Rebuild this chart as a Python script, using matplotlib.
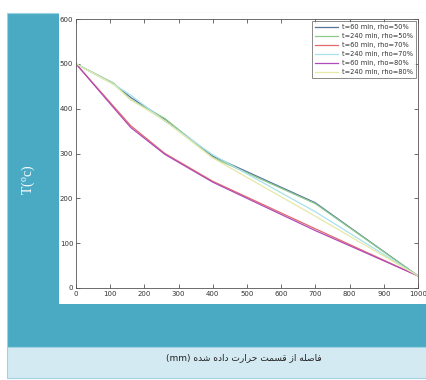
import matplotlib
matplotlib.use("Agg")
import matplotlib.pyplot as plt
from matplotlib.patches import Rectangle

# distance from heated end (mm)
x_mm = [0, 110, 160, 260, 400, 700, 1000]

# temperature profiles (deg C)
t60_rho50 = [500, 455, 425, 376, 294, 190, 27]
t240_rho50 = [500, 457, 420, 378, 291, 188, 27]
t60_rho70 = [500, 405, 362, 300, 238, 132, 27]
t240_rho70 = [500, 455, 430, 372, 297, 170, 27]
t60_rho80 = [500, 402, 358, 298, 236, 128, 27]
t240_rho80 = [500, 454, 420, 373, 290, 160, 27]

labels = ["t=60 min, rho=50%", "t=240 min, rho=50%", "t=60 min, rho=70%",
          "t=240 min, rho=70%", "t=60 min, rho=80%", "t=240 min, rho=80%"]
colors = ["#56739c", "#8acb8a", "#e26a6a", "#a8e2ea", "#b04ab8", "#e6e8a8"]
series = [t60_rho50, t240_rho50, t60_rho70, t240_rho70, t60_rho80, t240_rho80]

x_ticks = [0, 100, 200, 300, 400, 500, 600, 700, 800, 900, 1000]
y_ticks = [0, 100, 200, 300, 400, 500, 600]

W, H = 427, 380
fig = plt.figure(figsize=(W / 100, H / 100), dpi=100)
fig.patch.set_facecolor("white")

def box(x0, y0, x1, y1, fc, ec="none", lw=0.0):
    fig.patches.append(Rectangle((x0 / W, 1 - y1 / H), (x1 - x0) / W, (y1 - y0) / H,
                                 transform=fig.transFigure, facecolor=fc,
                                 edgecolor=ec, linewidth=lw, zorder=-5))

# teal panel, caption strip, white plot panel
box(7, 13, 428, 347, "#4aaac4", "#9fd3e2", 0.8)
box(7, 347, 428, 378, "#d3eaf2", "#9fd3e2", 0.8)
box(59, 13, 428, 304, "white")

ax = fig.add_axes([76 / W, 1 - 288 / H, (418 - 76) / W, (288 - 19) / H])
ax.set_zorder(2)
for s, c, lab in zip(series, colors, labels):
    ax.plot(x_mm, s, color=c, lw=0.9, label=lab)

ax.set_xlim(0, 1000)
ax.set_ylim(0, 600)
ax.set_xticks(x_ticks)
ax.set_yticks(y_ticks)
ax.tick_params(direction="in", length=3, width=0.5, labelsize=5, colors="#333333",
               top=True, right=True, pad=2)
for sp in ax.spines.values():
    sp.set_linewidth(0.6)
    sp.set_color("#555555")

leg = ax.legend(loc="upper right", fontsize=4.8, frameon=True, fancybox=False,
                edgecolor="#333333", handlelength=3.4, labelspacing=0.45,
                borderpad=0.45, handletextpad=0.6, borderaxespad=0.35)
leg.get_frame().set_linewidth(0.5)
for t in leg.get_texts():
    t.set_color("#333333")

# vertical axis title
fig.text(28 / W, 1 - 180 / H, "T($\\mathregular{^o}$c)", rotation=90, color="white",
         fontsize=10, family="Liberation Serif", ha="center", va="center")

# caption (Persian, in presentation forms, left-to-right visual order)
caption = ("(mm) "
           "\uFEE9\uFEAA\uFEB7 "
           "\uFEE9\uFEA9\uFE8D\uFEA9 "
           "\uFE95\uFEAD\uFE8D\uFEAE\uFEA3 "
           "\uFE96\uFEE4\uFEB4\uFED7 "
           "\uFEAF\uFE8D "
           "\uFEEA\uFEE0\uFEBB\uFE8E\uFED3")
fig.text(244 / W, 1 - 358 / H, caption, fontsize=6.5, color="#222222",
         family="DejaVu Sans", ha="center", va="center")

fig.savefig("out.png", dpi=100)
